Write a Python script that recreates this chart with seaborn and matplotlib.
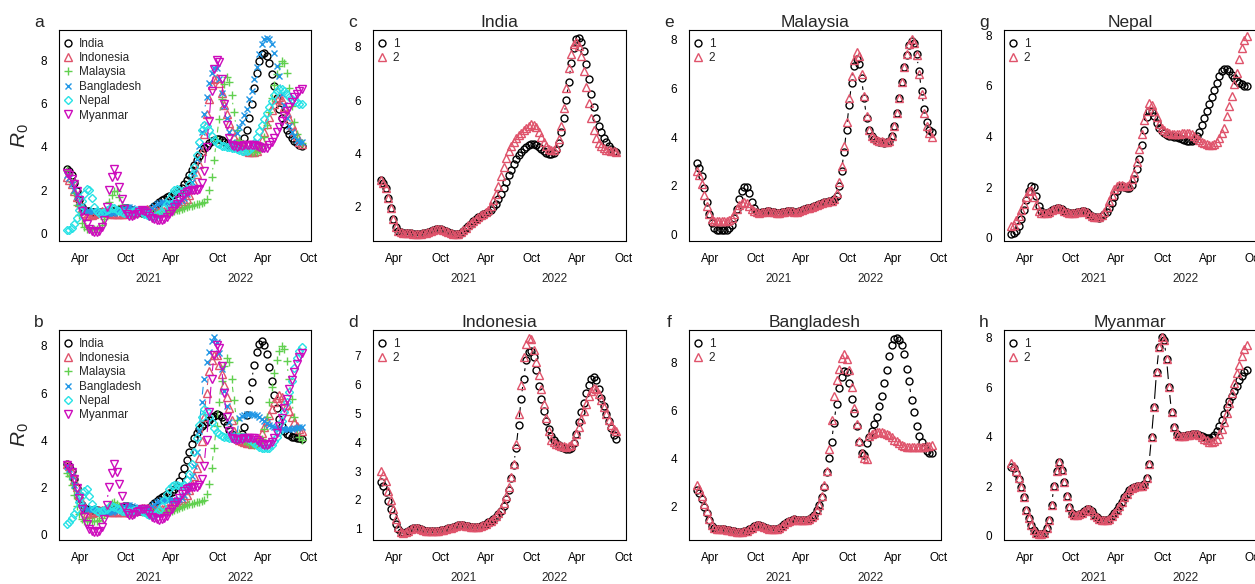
import numpy as np
import pandas as pd
import matplotlib
matplotlib.use('Agg')
import matplotlib.pyplot as plt
import matplotlib.dates as mdates
import matplotlib.transforms as mtransforms
from matplotlib.lines import Line2D
from matplotlib.collections import LineCollection
import seaborn as sns

# ─────────────────────────────────────────────
# Estimated R0 (model 1 and model 2), one value every 10 days
# ─────────────────────────────────────────────
dates = pd.date_range('2020-02-06', periods=95, freq='10D')

india_1 = [
    3.0, 2.9, 2.7, 2.35, 1.95, 1.55, 1.25, 1.1, 1.05, 1.03,
    1.02, 1.02, 1.01, 1.0, 1.0, 1.0, 1.0, 1.02, 1.04, 1.07,
    1.1, 1.13, 1.16, 1.18, 1.18, 1.15, 1.1, 1.05, 1.01, 0.99,
    0.98, 1.0, 1.03, 1.1, 1.2, 1.3, 1.38, 1.46, 1.54, 1.62,
    1.68, 1.73, 1.77, 1.83, 1.9, 2.0, 2.13, 2.3, 2.5, 2.72,
    2.95, 3.18, 3.4, 3.6, 3.78, 3.93, 4.06, 4.17, 4.26, 4.32,
    4.36, 4.35, 4.31, 4.25, 4.18, 4.1, 4.03, 3.99, 3.98, 4.02,
    4.15, 4.4, 4.8, 5.35, 6.0, 6.7, 7.4, 7.95, 8.28, 8.35,
    8.2, 7.85, 7.35, 6.8, 6.25, 5.75, 5.35, 5.05, 4.8, 4.6,
    4.42, 4.28, 4.18, 4.1, 4.05]
india_2 = [
    3.0, 2.9, 2.7, 2.35, 1.95, 1.55, 1.25, 1.1, 1.05, 1.03,
    1.02, 1.02, 1.01, 1.0, 1.0, 1.0, 1.0, 1.02, 1.04, 1.07,
    1.1, 1.13, 1.16, 1.18, 1.18, 1.15, 1.1, 1.05, 1.01, 0.99,
    0.98, 1.0, 1.05, 1.12, 1.22, 1.32, 1.4, 1.48, 1.56, 1.64,
    1.7, 1.75, 1.8, 1.9, 2.05, 2.25, 2.5, 2.8, 3.15, 3.5,
    3.85, 4.1, 4.3, 4.45, 4.58, 4.68, 4.77, 4.87, 4.96, 5.04,
    5.1, 5.08, 4.98, 4.82, 4.62, 4.42, 4.27, 4.17, 4.12, 4.13,
    4.25, 4.55, 5.05, 5.7, 6.45, 7.2, 7.75, 8.1, 8.2, 8.05,
    7.65, 7.1, 6.5, 5.9, 5.35, 4.9, 4.6, 4.4, 4.27, 4.2,
    4.15, 4.12, 4.1, 4.08, 4.05]

indonesia_1 = [
    2.63, 2.48, 2.28, 1.95, 1.68, 1.45, 1.18, 0.98, 0.88, 0.86,
    0.88, 0.93, 0.98, 1.02, 1.03, 1.01, 0.98, 0.95, 0.93, 0.92,
    0.92, 0.92, 0.93, 0.93, 0.94, 0.96, 0.98, 1.01, 1.04, 1.07,
    1.1, 1.12, 1.13, 1.12, 1.1, 1.08, 1.06, 1.05, 1.05, 1.07,
    1.1, 1.14, 1.18, 1.23, 1.28, 1.34, 1.42, 1.5, 1.6, 1.8,
    2.05, 2.35, 2.75, 3.2, 3.8, 4.6, 5.5, 6.2, 6.85, 7.15,
    7.18, 6.95, 6.5, 5.95, 5.5, 5.1, 4.75, 4.45, 4.22, 4.08,
    3.98, 3.9, 3.83, 3.79, 3.76, 3.76, 3.82, 3.98, 4.3, 4.7,
    5.05, 5.38, 5.7, 6.0, 6.2, 6.28, 6.15, 5.85, 5.55, 5.28,
    5.0, 4.75, 4.5, 4.25, 4.12]
indonesia_2 = [
    3.0, 2.88, 2.65, 2.3, 2.0, 1.68, 1.35, 1.05, 0.9, 0.86,
    0.88, 0.93, 0.98, 1.02, 1.03, 1.01, 0.98, 0.95, 0.93, 0.92,
    0.92, 0.92, 0.93, 0.93, 0.94, 0.96, 0.98, 1.01, 1.04, 1.07,
    1.1, 1.12, 1.13, 1.12, 1.1, 1.08, 1.06, 1.05, 1.05, 1.07,
    1.1, 1.14, 1.18, 1.23, 1.28, 1.35, 1.44, 1.55, 1.68, 1.88,
    2.15, 2.45, 2.8, 3.25, 3.95, 5.0, 6.0, 6.95, 7.4, 7.62,
    7.6, 7.2, 6.8, 6.35, 5.85, 5.35, 4.85, 4.4, 4.1, 4.0,
    3.95, 3.91, 3.88, 3.86, 3.84, 3.86, 3.92, 4.05, 4.3, 4.55,
    4.82, 5.08, 5.33, 5.6, 5.8, 5.9, 5.85, 5.68, 5.47, 5.22,
    4.98, 4.78, 4.6, 4.48, 4.4]

malaysia_1 = [
    2.95, 2.75, 2.4, 1.9, 1.35, 0.85, 0.5, 0.3, 0.22, 0.2,
    0.2, 0.2, 0.22, 0.28, 0.42, 0.7, 1.05, 1.45, 1.78, 1.97,
    1.95, 1.7, 1.35, 1.08, 0.95, 0.9, 0.92, 0.95, 0.97, 0.97,
    0.95, 0.92, 0.9, 0.9, 0.92, 0.95, 0.98, 0.98, 0.96, 0.94,
    0.94, 0.96, 1.0, 1.04, 1.08, 1.12, 1.16, 1.2, 1.24, 1.27,
    1.3, 1.33, 1.36, 1.38, 1.4, 1.45, 1.6, 2.0, 2.6, 3.4,
    4.3, 5.3, 6.2, 6.9, 7.2, 7.0, 6.4, 5.6, 4.8, 4.3,
    4.05, 3.92, 3.85, 3.8, 3.78, 3.77, 3.78, 3.85, 4.05, 4.45,
    5.0, 5.6, 6.25, 6.85, 7.35, 7.75, 7.95, 7.85, 7.4, 6.7,
    5.9, 5.15, 4.6, 4.3, 4.2]
malaysia_2 = [
    2.6, 2.45, 2.1, 1.65, 1.2, 0.85, 0.65, 0.57, 0.55, 0.55,
    0.55, 0.55, 0.56, 0.6, 0.7, 0.85, 1.05, 1.22, 1.32, 1.35,
    1.3, 1.2, 1.07, 0.98, 0.93, 0.9, 0.92, 0.95, 0.97, 0.97,
    0.95, 0.92, 0.9, 0.9, 0.92, 0.95, 0.98, 0.98, 0.96, 0.94,
    0.94, 0.96, 1.0, 1.04, 1.08, 1.12, 1.16, 1.2, 1.24, 1.27,
    1.3, 1.33, 1.36, 1.38, 1.4, 1.45, 1.7, 2.15, 2.8, 3.65,
    4.6, 5.6, 6.5, 7.15, 7.5, 7.3, 6.6, 5.7, 4.85, 4.3,
    4.05, 3.95, 3.9, 3.85, 3.82, 3.8, 3.8, 3.86, 4.05, 4.45,
    5.0, 5.6, 6.25, 6.85, 7.4, 7.8, 8.0, 7.85, 7.35, 6.6,
    5.75, 5.0, 4.45, 4.15, 4.02]

bangladesh_1 = [
    2.7, 2.58, 2.3, 2.0, 1.75, 1.45, 1.2, 1.1, 1.07, 1.06,
    1.06, 1.05, 1.04, 1.02, 1.0, 0.98, 0.96, 0.95, 0.95, 0.97,
    1.0, 1.05, 1.12, 1.19, 1.23, 1.24, 1.21, 1.16, 1.11, 1.07,
    1.05, 1.05, 1.07, 1.12, 1.2, 1.28, 1.36, 1.42, 1.46, 1.47,
    1.46, 1.44, 1.43, 1.43, 1.45, 1.5, 1.55, 1.65, 1.85, 2.05,
    2.4, 2.8, 3.45, 4.05, 4.7, 5.5, 6.3, 6.95, 7.4, 7.65,
    7.62, 7.15, 6.5, 5.9, 5.35, 4.7, 4.25, 4.15, 4.65, 4.9,
    5.15, 5.45, 5.75, 6.2, 6.6, 7.15, 7.7, 8.3, 8.75, 8.98,
    9.03, 8.95, 8.75, 8.35, 7.75, 7.25, 6.45, 5.95, 5.35, 4.95,
    4.7, 4.5, 4.32, 4.25, 4.22]
bangladesh_2 = [
    2.9, 2.75, 2.45, 2.1, 1.8, 1.5, 1.25, 1.12, 1.08, 1.07,
    1.06, 1.05, 1.04, 1.02, 1.0, 0.98, 0.96, 0.95, 0.95, 0.97,
    1.0, 1.05, 1.12, 1.19, 1.23, 1.24, 1.21, 1.16, 1.11, 1.07,
    1.05, 1.05, 1.07, 1.12, 1.2, 1.28, 1.36, 1.42, 1.46, 1.47,
    1.46, 1.44, 1.43, 1.43, 1.45, 1.5, 1.55, 1.65, 1.85, 2.05,
    2.45, 2.9, 3.5, 4.4, 5.6, 6.6, 7.3, 7.75, 8.2, 8.38,
    8.15, 7.7, 7.0, 6.1, 5.45, 4.75, 4.25, 4.05, 4.0, 4.95,
    5.02, 5.07, 5.1, 5.12, 5.11, 5.08, 5.05, 4.98, 4.9, 4.8,
    4.72, 4.65, 4.59, 4.54, 4.5, 4.48, 4.47, 4.47, 4.47, 4.47,
    4.48, 4.5, 4.52, 4.55, 4.57]

nepal_1 = [
    0.16, 0.18, 0.25, 0.45, 0.72, 1.1, 1.5, 1.85, 2.05, 2.0,
    1.65, 1.25, 1.05, 0.96, 0.97, 1.02, 1.08, 1.14, 1.18, 1.17,
    1.12, 1.05, 1.0, 0.97, 0.96, 0.97, 1.0, 1.03, 1.05, 1.04,
    1.0, 0.93, 0.86, 0.82, 0.8, 0.79, 0.85, 0.93, 1.02, 1.18,
    1.38, 1.62, 1.85, 2.02, 2.05, 2.0, 1.96, 1.95, 2.07, 2.3,
    2.7, 3.1, 3.65, 4.25, 4.78, 5.02, 4.98, 4.8, 4.52, 4.32,
    4.2, 4.12, 4.06, 4.03, 4.01, 3.99, 3.97, 3.93, 3.89, 3.85,
    3.82, 3.8, 3.81, 3.86, 4.0, 4.18, 4.45, 4.72, 5.0, 5.28,
    5.55, 5.85, 6.12, 6.4, 6.58, 6.66, 6.67, 6.58, 6.42, 6.3,
    6.2, 6.12, 6.05, 5.99, 5.97]
nepal_2 = [
    0.45, 0.52, 0.68, 0.85, 1.08, 1.35, 1.62, 1.85, 1.9, 1.6,
    1.3, 1.05, 0.98, 0.96, 0.97, 1.02, 1.08, 1.14, 1.18, 1.17,
    1.12, 1.05, 1.0, 0.97, 0.96, 0.97, 1.0, 1.03, 1.05, 1.04,
    1.0, 0.93, 0.86, 0.82, 0.8, 0.8, 0.88, 1.02, 1.2, 1.45,
    1.7, 1.92, 2.05, 2.1, 2.07, 2.04, 2.03, 2.08, 2.3, 2.55,
    3.0, 3.5, 4.1, 4.65, 5.0, 5.3, 5.25, 5.0, 4.75, 4.5,
    4.35, 4.25, 4.18, 4.13, 4.11, 4.1, 4.1, 4.11, 4.12, 4.13,
    4.14, 4.14, 4.1, 4.03, 3.95, 3.86, 3.78, 3.72, 3.68, 3.65,
    3.66, 3.68, 3.78, 3.95, 4.15, 4.35, 4.8, 5.2, 5.6, 6.05,
    6.5, 7.05, 7.5, 7.8, 7.97]

myanmar_1 = [
    2.78, 2.72, 2.52, 2.3, 1.95, 1.55, 1.05, 0.72, 0.45, 0.22,
    0.12, 0.09, 0.09, 0.12, 0.3, 0.65, 1.25, 2.0, 2.6, 2.97,
    2.65, 2.15, 1.6, 1.15, 0.9, 0.83, 0.83, 0.87, 0.93, 1.0,
    1.08, 1.07, 0.98, 0.84, 0.74, 0.67, 0.63, 0.62, 0.63, 0.68,
    0.78, 0.92, 1.06, 1.22, 1.38, 1.55, 1.7, 1.83, 1.93, 1.98,
    2.0, 2.0, 2.02, 2.08, 2.35, 2.9, 4.0, 5.2, 6.6, 7.6,
    8.02, 7.9, 7.15, 6.0, 5.0, 4.4, 4.1, 4.03, 4.02, 4.03,
    4.05, 4.07, 4.09, 4.1, 4.09, 4.07, 4.04, 4.0, 3.96, 3.94,
    3.97, 4.08, 4.22, 4.42, 4.67, 4.93, 5.18, 5.43, 5.65, 5.85,
    6.05, 6.3, 6.46, 6.6, 6.68]
myanmar_2 = [
    2.92, 2.82, 2.62, 2.35, 1.98, 1.55, 1.05, 0.72, 0.45, 0.22,
    0.12, 0.09, 0.09, 0.12, 0.3, 0.65, 1.25, 2.0, 2.6, 2.97,
    2.65, 2.15, 1.6, 1.15, 0.9, 0.83, 0.83, 0.87, 0.93, 1.0,
    1.08, 1.07, 0.98, 0.84, 0.74, 0.67, 0.63, 0.62, 0.63, 0.68,
    0.78, 0.92, 1.06, 1.22, 1.38, 1.55, 1.7, 1.83, 1.93, 1.98,
    2.0, 2.0, 2.02, 2.08, 2.35, 2.9, 4.0, 5.2, 6.6, 7.6,
    8.02, 7.9, 7.15, 6.0, 5.0, 4.4, 4.1, 4.03, 4.02, 4.03,
    4.05, 4.07, 4.09, 4.1, 4.09, 4.07, 4.0, 3.92, 3.85, 3.8,
    3.79, 3.82, 3.92, 4.1, 4.3, 4.6, 4.95, 5.35, 5.75, 6.15,
    6.55, 6.9, 7.25, 7.52, 7.68]

countries = ['India', 'Indonesia', 'Malaysia', 'Bangladesh', 'Nepal', 'Myanmar']
model_1 = [india_1, indonesia_1, malaysia_1, bangladesh_1, nepal_1, myanmar_1]
model_2 = [india_2, indonesia_2, malaysia_2, bangladesh_2, nepal_2, myanmar_2]

# R-style palette / point characters
colors  = ['black', '#DF536B', '#61D04F', '#2297E6', '#28E2E5', '#CD0BBC']
markers = ['o', '^', '+', 'x', 'D', 'v']
msizes  = [5.0, 5.3, 6.0, 5.0, 3.9, 5.3]
MEW = 1.0

# ─────────────────────────────────────────────
# Style
# ─────────────────────────────────────────────
sns.set_style('white')
plt.rcParams['font.family'] = ['Liberation Sans', 'DejaVu Sans']
plt.rcParams['mathtext.fontset'] = 'custom'
plt.rcParams['mathtext.it'] = 'Liberation Sans:italic'
plt.rcParams['mathtext.rm'] = 'Liberation Sans'

W, H = 1255, 584
fig = plt.figure(figsize=(W / 100, H / 100), dpi=100)
fig.patch.set_facecolor('white')

col_px = [(59, 311), (373, 626), (689, 941), (1004, 1256)]
row_px = [(29.5, 241), (329.5, 540)]

xmin, xmax = pd.Timestamp('2020-01-07'), pd.Timestamp('2022-10-11')
tick_dates = pd.date_range('2020-04-01', '2022-10-01', freq='QS')
tick_labels = [d.strftime('%b') if d.month in (4, 10) else '' for d in tick_dates]


def make_ax(col, row):
    l, r = col_px[col]
    t, b = row_px[row]
    return fig.add_axes([l / W, 1 - b / H, (r - l) / W, (b - t) / H])


def draw(ax, y, color, marker, size):
    sns.lineplot(x=dates, y=y, ax=ax, estimator=None, sort=False,
                 color=color, marker=marker, markersize=size, linestyle='none',
                 markerfacecolor='none', markeredgecolor=color, markeredgewidth=MEW)


def connect(ax, y, color, gap=8.0):
    # R type="b": segments between points, leaving a gap around each point
    pts = ax.transData.transform(np.column_stack([mdates.date2num(dates), y]))
    segs = []
    for p0, p1 in zip(pts[:-1], pts[1:]):
        d = p1 - p0
        L = np.hypot(d[0], d[1])
        if L > 2 * gap + 1:
            u = d / L
            segs.append([p0 + u * gap, p1 - u * gap])
    if segs:
        lc = LineCollection(segs, colors=color, linewidths=0.8,
                            transform=mtransforms.IdentityTransform())
        ax.add_collection(lc, autolim=False)


def add_legend(ax, labels, cols, marks, sizes):
    handles = [Line2D([], [], linestyle='none', marker=m, markersize=s, color=c,
                      markerfacecolor='none', markeredgecolor=c, markeredgewidth=MEW)
               for c, m, s in zip(cols, marks, sizes)]
    ax.legend(handles, labels, loc='upper left', bbox_to_anchor=(0.004, 0.978),
              frameon=False, fontsize=8.5, handlelength=0.8, handletextpad=0.5,
              labelspacing=0.2, borderaxespad=0.0, borderpad=0.3)


def dress(ax, ylim, yticks, letter, title=None, ylab=False):
    ax.set_xlim(xmin, xmax)
    ax.set_ylim(*ylim)
    ax.set_yticks(yticks)
    ax.set_xticks(tick_dates)
    ax.set_xticklabels(tick_labels)
    ax.set_xlabel('')
    ax.set_ylabel('')
    for s in ax.spines.values():
        s.set_visible(True)
        s.set_color('black')
        s.set_linewidth(0.8)
    # R draws the date axis slightly below the box
    ax.spines['bottom'].set_position(('outward', 2.5))
    ax.spines['bottom'].set_visible(False)
    ax.plot([0, 1], [0, 0], transform=ax.transAxes, color='black', lw=0.8, clip_on=False)
    ax.tick_params(axis='both', direction='out', length=4, width=0.8, color='black',
                   labelsize=8.5, labelcolor='black')
    ax.tick_params(axis='x', pad=2)
    ax.tick_params(axis='y', pad=4.5)
    trans = mtransforms.blended_transform_factory(ax.transData, ax.transAxes)
    for yr in (2021, 2022):
        ax.text(mdates.date2num(pd.Timestamp(f'{yr}-01-01')), -0.18, str(yr),
                transform=trans, ha='center', va='center', fontsize=8.5)
    ax.text(-0.079, 1.035, letter, transform=ax.transAxes, ha='center', va='center',
            fontsize=12.5)
    if title:
        ax.set_title(title, fontsize=12.5, pad=2)
    if ylab:
        ax.text(-0.155, 0.5, r'$R_0$', transform=ax.transAxes, rotation=90,
                ha='center', va='center', fontsize=15)


# ── Panels a / b : all countries, model 1 and model 2 ──
for row, (series, letter, ylim) in enumerate([(model_1, 'a', (-0.33, 9.41)),
                                              (model_2, 'b', (-0.25, 8.7))]):
    ax = make_ax(0, row)
    dress(ax, ylim, [0, 2, 4, 6, 8], letter, ylab=True)
    for k in range(len(countries)):
        connect(ax, series[k], colors[k])
        draw(ax, series[k], colors[k], markers[k], msizes[k])
    add_legend(ax, countries, colors, markers, msizes)
    ax.set_xlabel('')
    ax.set_ylabel('')

# ── Panels c-h : each country, model 1 vs model 2 ──
panel_cfg = [
    # country index, col, row, letter, ylim, yticks
    (0, 1, 0, 'c', (0.725, 8.65), [2, 4, 6, 8]),
    (1, 1, 1, 'd', (0.61, 7.92), [1, 2, 3, 4, 5, 6, 7]),
    (2, 2, 0, 'e', (-0.25, 8.4), [0, 2, 4, 6, 8]),
    (3, 2, 1, 'f', (0.61, 9.39), [2, 4, 6, 8]),
    (4, 3, 0, 'g', (-0.13, 8.22), [0, 2, 4, 6, 8]),
    (5, 3, 1, 'h', (-0.17, 8.32), [0, 2, 4, 6, 8]),
]
for k, col, row, letter, ylim, yticks in panel_cfg:
    ax = make_ax(col, row)
    dress(ax, ylim, yticks, letter, title=countries[k])
    connect(ax, model_1[k], colors[0])
    draw(ax, model_1[k], colors[0], markers[0], msizes[0])
    draw(ax, model_2[k], colors[1], markers[1], msizes[1])
    add_legend(ax, ['1', '2'], colors[:2], markers[:2], msizes[:2])
    ax.set_xlabel('')
    ax.set_ylabel('')

fig.savefig('out.png', dpi=100, facecolor='white')
